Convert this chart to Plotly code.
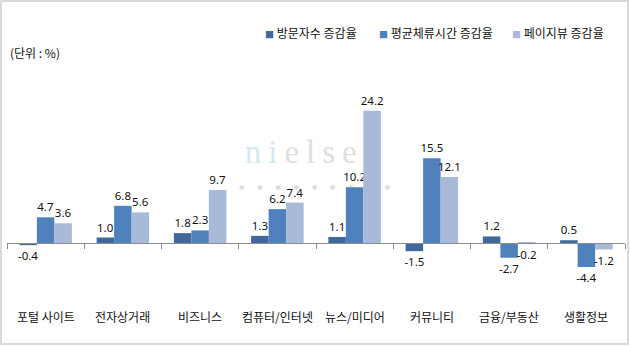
import plotly.graph_objects as go

categories = ["포털 사이트", "전자상거래", "비즈니스", "컴퓨터/인터넷", "뉴스/미디어", "커뮤니티", "금융/부동산", "생활정보"]
series_names = ["방문자수 증감율", "평균체류시간 증감율", "페이지뷰 증감율"]
visitors = [-0.4, 1.0, 1.8, 1.3, 1.1, -1.5, 1.2, 0.5]
duration = [4.7, 6.8, 2.3, 6.2, 10.2, 15.5, -2.7, -4.4]
pageviews = [3.6, 5.6, 9.7, 7.4, 24.2, 12.1, -0.2, -1.2]
unit_label = "(단위 : %)"

colors = ["#41689B", "#4F81BD", "#A9B9D8"]

W_PX, H_PX = 630, 346
L, R, T, B = 7, 625, 60, 306  # plot area in pixels
YMIN, YMAX = -11.54, 33.5

def px(x):
    return (x - L) / (R - L)

def py(y):
    return 1 - (y - T) / (B - T)

KFONT = "Noto Sans CJK KR"

fig = go.Figure()
for name, vals, c in zip(series_names, [visitors, duration, pageviews], colors):
    fig.add_trace(go.Bar(
        x=categories, y=vals, name=name, marker=dict(color=c, line=dict(width=0)),
        text=[f"{v:.1f}" for v in vals], textposition="outside", constraintext="none",
        textfont=dict(family="Noto Sans", size=11.5, color="#111111"),
        cliponaxis=False, showlegend=False,
    ))

zero_pos = (0 - YMIN) / (YMAX - YMIN)

fig.update_layout(
    width=W_PX, height=H_PX,
    margin=dict(l=L, r=W_PX - R, t=T, b=H_PX - B),
    paper_bgcolor="white", plot_bgcolor="white",
    barmode="group", bargap=0.32, bargroupgap=0,
    font=dict(family=KFONT, size=11, color="#111111"),
    xaxis=dict(type="category", range=[-0.5, len(categories) - 0.5], anchor="free", position=zero_pos,
               showline=True, linecolor="#8C8C8C", linewidth=1, ticks="outside", tickson="boundaries",
               ticklen=5, tickcolor="#8C8C8C", showticklabels=False, showgrid=False, zeroline=False),
    yaxis=dict(range=[YMIN, YMAX], visible=False, showgrid=False, zeroline=False),
)

# category labels (text row under the chart, centred on each category)
for name in categories:
    fig.add_annotation(x=name, y=py(316), xref="x", yref="paper", text=name, showarrow=False,
                       xanchor="center", yanchor="middle", font=dict(family=KFONT, size=12, color="#111111"))

# legend
leg_x = [263, 377, 510]
for name, c, xp in zip(series_names, colors, leg_x):
    fig.add_annotation(x=px(xp), y=py(33), xref="paper", yref="paper",
                       text=f"<span style='color:{c};font-size:9px'>■</span> {name}", showarrow=False,
                       xanchor="left", yanchor="middle", font=dict(family=KFONT, size=12, color="#111111"))

# unit label
fig.add_annotation(x=px(8), y=py(52), xref="paper", yref="paper", text=unit_label, showarrow=False,
                   xanchor="left", yanchor="middle", font=dict(family=KFONT, size=12, color="#111111"))

# watermark (below bars)
fig.add_shape(type="rect", xref="paper", yref="paper", x0=px(246), x1=px(386), y0=py(170), y1=py(126),
              line=dict(width=0), fillcolor="rgba(0,0,0,0)", layer="below",
              label=dict(text="<span style='color:#D4E9F2;letter-spacing:7px'>ni</span>"
                              "<span style='color:#DFDFDF;letter-spacing:7px'>elsen</span>",
                         font=dict(family="Liberation Serif", size=33, color="#DFDFDF"),
                         textposition="middle center"))
fig.add_shape(type="rect", xref="paper", yref="paper", x0=px(251), x1=px(391), y0=py(192), y1=py(180),
              line=dict(width=0), fillcolor="rgba(0,0,0,0)", layer="below",
              label=dict(text="<span style='letter-spacing:13px'>●●●●●●●●●</span>",
                         font=dict(family="DejaVu Sans", size=6, color="#DDDDDD"),
                         textposition="middle center"))

# frame
fig.add_shape(type="rect", xref="paper", yref="paper", x0=px(1), x1=px(628), y0=py(344), y1=py(1),
              line=dict(color="#D9D9D9", width=2), fillcolor="rgba(0,0,0,0)", layer="above")

fig.write_html("out.html")
